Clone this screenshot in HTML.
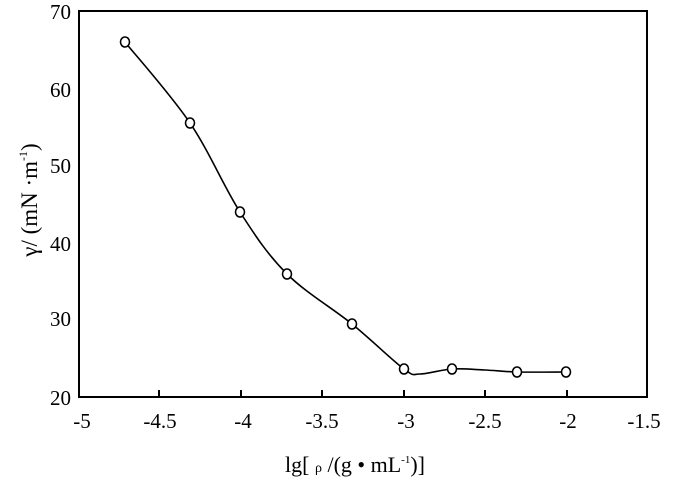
<!DOCTYPE html>
<html><head><meta charset="utf-8"><style>
html,body{margin:0;padding:0;background:#fff;}
svg{display:block;font-family:"Liberation Serif",serif;}
</style></head><body>
<svg width="681" height="483" viewBox="0 0 681 483" xmlns="http://www.w3.org/2000/svg">
<rect x="79" y="11" width="568" height="386" fill="none" stroke="#000" stroke-width="2"/>
<g stroke="#000" stroke-width="2">
<line x1="159" y1="397" x2="159" y2="390"/>
<line x1="241" y1="397" x2="241" y2="390"/>
<line x1="322" y1="397" x2="322" y2="390"/>
<line x1="404" y1="397" x2="404" y2="390"/>
<line x1="485" y1="397" x2="485" y2="390"/>
<line x1="567" y1="397" x2="567" y2="390"/>
</g>
<g font-size="21" text-anchor="end">
<text x="71" y="19">70</text>
<text x="71" y="97">60</text>
<text x="71" y="173">50</text>
<text x="71" y="251">40</text>
<text x="71" y="326">30</text>
<text x="71" y="405">20</text>
</g>
<g font-size="21" text-anchor="middle">
<text x="82" y="428">-5</text>
<text x="160" y="428">-4.5</text>
<text x="243" y="428">-4</text>
<text x="322" y="428">-3.5</text>
<text x="406" y="428">-3</text>
<text x="485" y="428">-2.5</text>
<text x="568" y="428">-2</text>
<text x="644" y="428">-1.5</text>
</g>
<text x="355" y="472" font-size="22" text-anchor="middle">lg[ <tspan font-size="14">ρ</tspan> /(g • mL<tspan font-size="11" dy="-9">-1</tspan><tspan dy="9">)]</tspan></text>
<text transform="translate(37,200) rotate(-90)" font-size="23" text-anchor="middle">γ/ (mN ·m<tspan font-size="12" dy="-10">-1</tspan><tspan dy="10">)</tspan></text>
<path id="curve" fill="none" stroke="#000" stroke-width="1.6"/>
<g id="marks" fill="#fff" stroke="#000" stroke-width="1.6"></g>
</svg>
<script>
var P=[[125,42],[190,123],[240,212],[287,274],[352,324],[404,369],[420,374],[452,369],[485,370],[517,372],[566,372]];
var d="M"+P[0][0]+","+P[0][1];
for(var i=0;i<P.length-1;i++){
 var p0=P[Math.max(0,i-1)],p1=P[i],p2=P[i+1],p3=P[Math.min(P.length-1,i+2)];
 var c1=[p1[0]+(p2[0]-p0[0])/6,p1[1]+(p2[1]-p0[1])/6];
 var c2=[p2[0]-(p3[0]-p1[0])/6,p2[1]-(p3[1]-p1[1])/6];
 d+=" C"+c1+" "+c2+" "+p2;
}
document.getElementById("curve").setAttribute("d",d);
var M=[[125,42],[190,123],[240,212],[287,274],[352,324],[404,369],[452,369],[517,372],[566,372]];
var g=document.getElementById("marks"),s="";
M.forEach(function(p){s+='<ellipse cx="'+p[0]+'" cy="'+p[1]+'" rx="4.5" ry="5"/>';});
g.innerHTML=s;
</script>
</body></html>
